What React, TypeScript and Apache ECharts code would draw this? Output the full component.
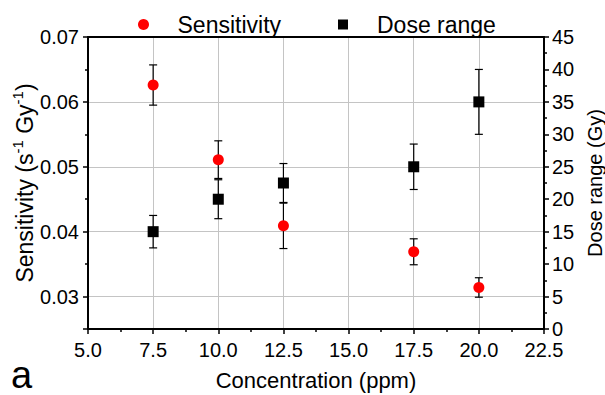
import React, { useEffect, useRef } from "react";
import * as echarts from "echarts";

const concentration = [7.5, 10.0, 12.5, 17.5, 20.0];
const sensitivity = [0.0626, 0.0511, 0.0409, 0.0369, 0.0314];
const sensitivityErr = [0.0031, 0.0029, 0.0035, 0.002, 0.0015];
const doseRange = [15, 20, 22.5, 25, 35];
const doseRangeErr = [2.5, 3, 3, 3.5, 5];

const FONT = "'Liberation Sans', Arial, sans-serif";

export default function App() {
  const ref = useRef<HTMLDivElement>(null);
  useEffect(() => {
    document.body.style.margin = "0";
    if (!ref.current) return;
    const chart = echarts.init(ref.current, undefined, { renderer: "svg" });

    const errRender = (params: any, api: any) => {
      const x = api.value(0);
      const lo = api.value(1);
      const hi = api.value(2);
      const p1 = api.coord([x, hi]);
      const p2 = api.coord([x, lo]);
      const hw = 4;
      const st = { stroke: "#000", lineWidth: 1.2 };
      return {
        type: "group",
        children: [
          { type: "line", shape: { x1: p1[0], y1: p1[1], x2: p2[0], y2: p2[1] }, style: st },
          { type: "line", shape: { x1: p1[0] - hw, y1: p1[1], x2: p1[0] + hw, y2: p1[1] }, style: st },
          { type: "line", shape: { x1: p2[0] - hw, y1: p2[1], x2: p2[0] + hw, y2: p2[1] }, style: st },
        ],
      };
    };

    const axisLine = { show: true, lineStyle: { color: "#000", width: 2 } };
    const labelStyle = { color: "#000", fontSize: 20, fontFamily: FONT };

    chart.setOption({
      animation: false,
      textStyle: { fontFamily: FONT },
      grid: { left: 88, right: 61, top: 37, bottom: 66, containLabel: false, outerBoundsMode: "none" },
      legend: [
        {
          left: 133,
          top: 8,
          itemWidth: 58,
          itemHeight: 11,
          textStyle: { fontSize: 23, color: "#000", fontFamily: FONT },
          data: [{ name: "Sensitivity", icon: "circle" }],
        },
        {
          left: 333,
          top: 8,
          itemWidth: 58,
          itemHeight: 10,
          textStyle: { fontSize: 23, color: "#000", fontFamily: FONT },
          data: [{ name: "Dose range", icon: "path://M0,0L10,0L10,10L0,10Z" }],
        },
      ],
      xAxis: [
        {
          type: "value",
          min: 5,
          max: 22.5,
          interval: 2.5,
          name: "Concentration (ppm)",
          nameLocation: "middle",
          nameGap: 40,
          nameTextStyle: { fontSize: 22, color: "#000", fontFamily: FONT },
          axisLine,
          axisTick: { show: true, length: 5, lineStyle: { color: "#000", width: 1.5 } },
          minorTick: { show: true, splitNumber: 2, length: 3, lineStyle: { color: "#000", width: 1.5 } },
          axisLabel: { ...labelStyle, margin: 11, formatter: (v: number) => v.toFixed(1) },
          splitLine: { show: true, lineStyle: { color: "#c4c4c4", width: 1 } },
        },
        {
          type: "value",
          position: "top",
          min: 5,
          max: 22.5,
          interval: 2.5,
          axisLine,
          axisTick: { show: false },
          axisLabel: { show: false },
          splitLine: { show: false },
        },
      ],
      yAxis: [
        {
          type: "value",
          min: 0.025,
          max: 0.07,
          splitNumber: 5,
          name: "Sensitivity (s{sup|-1} Gy{sup|-1})",
          nameLocation: "middle",
          nameRotate: 90,
          nameGap: 48,
          nameMoveOverlap: false,
          nameTextStyle: {
            fontSize: 23,
            color: "#000",
            fontFamily: FONT,
            lineHeight: 30,
            rich: { sup: { fontSize: 15, verticalAlign: "top", color: "#000", fontFamily: FONT } },
          },
          axisLine,
          axisTick: { show: true, length: 5, lineStyle: { color: "#000", width: 1.5 } },
          minorTick: { show: true, splitNumber: 2, length: 3, lineStyle: { color: "#000", width: 1.5 } },
          axisLabel: { ...labelStyle, margin: 9, showMinLabel: false, formatter: (v: number) => v.toFixed(2) },
          splitLine: { show: true, lineStyle: { color: "#c4c4c4", width: 1 } },
        },
        {
          type: "value",
          min: 0,
          max: 45,
          interval: 5,
          position: "right",
          name: "Dose range (Gy)",
          nameLocation: "middle",
          nameRotate: 90,
          nameGap: 31,
          nameTextStyle: { fontSize: 20, color: "#000", fontFamily: FONT },
          axisLine,
          axisTick: { show: true, length: 5, lineStyle: { color: "#000", width: 1.5 } },
          minorTick: { show: true, splitNumber: 2, length: 3, lineStyle: { color: "#000", width: 1.5 } },
          axisLabel: { ...labelStyle, margin: 8 },
          splitLine: { show: false },
        },
      ],
      series: [
        {
          type: "custom",
          name: "sensErr",
          xAxisIndex: 0,
          yAxisIndex: 0,
          renderItem: errRender,
          encode: { x: 0, y: [1, 2] },
          z: 1,
          data: concentration.map((c, i) => [c, sensitivity[i] - sensitivityErr[i], sensitivity[i] + sensitivityErr[i]]),
        },
        {
          type: "custom",
          name: "doseErr",
          xAxisIndex: 0,
          yAxisIndex: 1,
          renderItem: errRender,
          encode: { x: 0, y: [1, 2] },
          z: 1,
          data: concentration.map((c, i) => [c, doseRange[i] - doseRangeErr[i], doseRange[i] + doseRangeErr[i]]),
        },
        {
          type: "scatter",
          name: "Sensitivity",
          xAxisIndex: 0,
          yAxisIndex: 0,
          symbol: "circle",
          symbolSize: 11,
          itemStyle: { color: "#ff0000", opacity: 1 },
          z: 3,
          data: concentration.map((c, i) => [c, sensitivity[i]]),
        },
        {
          type: "scatter",
          name: "Dose range",
          xAxisIndex: 0,
          yAxisIndex: 1,
          symbol: "rect",
          symbolSize: 11,
          itemStyle: { color: "#000", opacity: 1 },
          z: 2,
          data: concentration.map((c, i) => [c, doseRange[i]]),
        },
      ],
      graphic: [
        {
          type: "text",
          left: 11,
          top: 356,
          style: { text: "a", fontSize: 38, fill: "#000", fontFamily: FONT },
        },
      ],
    });
    return () => chart.dispose();
  }, []);
  return <div ref={ref} style={{ width: 605, height: 395 }} />;
}
